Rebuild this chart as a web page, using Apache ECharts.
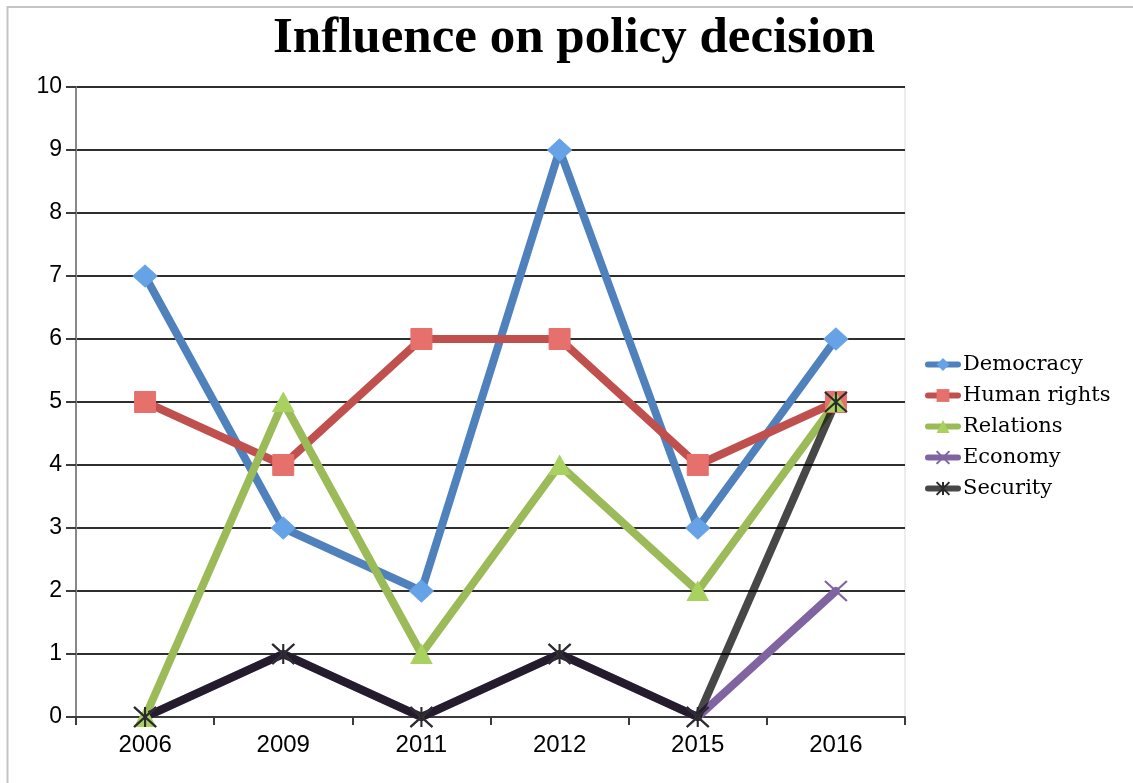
<!DOCTYPE html>
<html>
<head>
<meta charset="utf-8">
<script src="https://cdn.jsdelivr.net/npm/echarts@6/dist/echarts.min.js"></script>
<style>
  html, body { margin: 0; padding: 0; background: #fff; }
  #chart { width: 1133px; height: 783px; }
</style>
</head>
<body>
<div id="chart"></div>
<script>
// Years on the horizontal axis
const years = ['2006', '2009', '2011', '2012', '2015', '2016'];

// Influence scores per topic
const democracy = [7, 3, 2, 9, 3, 6];
const humanRights = [5, 4, 6, 6, 4, 5];
const relations = [0, 5, 1, 4, 2, 5];
const economy = [0, 1, 0, 1, 0, 2];
const security = [0, 1, 0, 1, 0, 5];

const serifFont = '"DejaVu Serif", "Liberation Serif", serif';
const sansFont = '"Liberation Sans", "DejaVu Sans", sans-serif';

const crossPath = 'path://M0,0L20,20M20,0L0,20';
const starPath = 'path://M0,0L20,20M20,0L0,20M10,0L10,20';

function lineSeries(name, data, lineColor, symbol, symbolSize, itemStyle) {
  return {
    name: name,
    type: 'line',
    data: data,
    symbol: symbol,
    symbolSize: symbolSize,
    showAllSymbol: true,
    lineStyle: { color: lineColor, width: 8, cap: 'round', join: 'round' },
    itemStyle: itemStyle,
    emphasis: { disabled: true },
    z: 3
  };
}

const chart = echarts.init(document.getElementById('chart'), null, { renderer: 'canvas' });

chart.setOption({
  animation: false,
  backgroundColor: '#ffffff',
  title: {
    text: 'Influence on policy decision',
    left: 268,
    top: 8,
    textStyle: {
      fontFamily: '"Liberation Serif", serif',
      fontWeight: 'bold',
      fontSize: 51,
      color: '#000'
    }
  },
  graphic: [{
    type: 'rect',
    shape: { x: 7.5, y: 7, width: 1400, height: 1000 },
    style: { fill: 'none', stroke: '#c4c4c4', lineWidth: 2 },
    silent: true
  }],
  grid: {
    left: 76,
    right: 228,
    top: 87,
    bottom: 66,
    show: true,
    borderColor: '#dadada',
    borderWidth: 1
  },
  legend: {
    orient: 'vertical',
    left: 920,
    top: 349,
    itemWidth: 30,
    itemHeight: 16,
    itemGap: 10,
    lineStyle: { width: 6 },
    textStyle: { fontFamily: serifFont, fontSize: 21, color: '#000' },
    data: ['Democracy', 'Human rights', 'Relations', 'Economy', 'Security']
  },
  xAxis: {
    type: 'category',
    data: years,
    boundaryGap: true,
    axisLine: { show: true, lineStyle: { color: '#3c3c3c', width: 2 } },
    axisTick: { show: true, length: 8, lineStyle: { color: '#3c3c3c', width: 2 } },
    axisLabel: { fontFamily: sansFont, fontSize: 24, color: '#000', margin: 16 },
    splitLine: { show: false }
  },
  yAxis: {
    type: 'value',
    min: 0,
    max: 10,
    interval: 1,
    axisLine: { show: true, lineStyle: { color: '#888', width: 2 } },
    axisTick: { show: true, length: 10, lineStyle: { color: '#3c3c3c', width: 2 } },
    axisLabel: { fontFamily: sansFont, fontSize: 23, color: '#000', margin: 14 },
    splitLine: { show: true, lineStyle: { color: '#2e2e2e', width: 2 } }
  },
  series: [
    lineSeries('Democracy', democracy, '#4F81BD', 'diamond', [24, 22],
      { color: '#66a3e6', borderColor: '#66a3e6' }),
    lineSeries('Human rights', humanRights, '#C0504D', 'rect', [21, 21],
      { color: '#e6706b', borderColor: '#e6706b' }),
    lineSeries('Relations', relations, '#9BBB59', 'triangle', [21, 19],
      { color: '#a9d160', borderColor: '#a9d160' }),
    lineSeries('Economy', economy, '#8064A2', crossPath, [22, 20],
      { color: 'transparent', borderColor: '#8064A2', borderWidth: 2 }),
    lineSeries('Security', security, 'rgba(0,0,0,0.72)', starPath, [22, 20],
      { color: 'transparent', borderColor: '#2a2a2a', borderWidth: 2 })
  ]
});
</script>
</body>
</html>
